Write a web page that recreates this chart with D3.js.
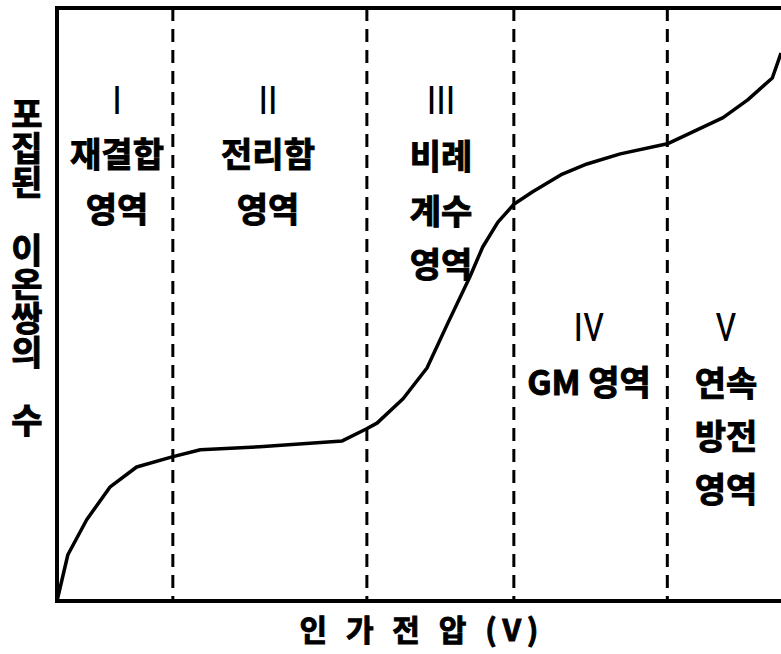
<!DOCTYPE html>
<html>
<head>
<meta charset="utf-8">
<script src="https://cdn.jsdelivr.net/npm/d3@7"></script>
<style>
  body { margin: 0; background: #fff; }
  svg { display: block; }
  .kr { font-family: "Noto Sans CJK KR", "Noto Sans", sans-serif; font-weight: 700; fill: #000; stroke: #000; stroke-width: 1; }
  .num { font-family: "Liberation Sans Narrow", "Roboto", sans-serif; font-stretch: condensed; font-weight: 400; fill: #000; }
</style>
</head>
<body>
<div id="chart"></div>
<script>
// applied voltage (arbitrary units, 0..100) and collected ion pairs (0..100)
const voltage = [0, 1.5, 4.1, 7.3, 11.0, 15.9, 19.8, 28.0, 39.4, 42.7, 44.2, 47.8, 51.1, 54.0, 57.0, 58.8, 60.9, 63.1, 65.7, 69.8, 73.2, 77.8, 84.3, 92.0, 95.4, 98.8, 100];
const ionPairs = [0, 7.8, 13.7, 19.2, 22.6, 24.3, 25.5, 26.0, 27.0, 29.0, 30.0, 34.1, 39.3, 46.9, 54.6, 59.7, 63.9, 66.9, 69.0, 72.0, 73.7, 75.4, 77.1, 81.5, 84.5, 88.2, 92.4];

// region boundaries (dashed lines)
const boundaries = [16.0, 42.8, 63.1, 84.3];

// region labels
const numerals = ["I", "II", "III", "IV", "V"];
const regionNames = [["재결합", "영역"], ["전리함", "영역"], ["비례", "계수", "영역"], ["GM 영역"], ["연속", "방전", "영역"]];

const xTitle = "인 가 전 압 (V)";
const yTitle = "포집된  이온쌍의 수";

const width = 781, height = 654;
const margin = { top: 8, left: 57, bottom: 53 };

const svg = d3.select("#chart").append("svg")
  .attr("width", width)
  .attr("height", height);

const x = d3.scaleLinear().domain([0, 100]).range([margin.left, 781]);
const y = d3.scaleLinear().domain([0, 100]).range([height - margin.bottom, margin.top]);

// dashed region separators
svg.append("g")
  .selectAll("line")
  .data(boundaries)
  .enter().append("line")
  .attr("x1", d => x(d)).attr("x2", d => x(d))
  .attr("y1", y(100)).attr("y2", y(0))
  .attr("stroke", "#000")
  .attr("stroke-width", 3)
  .attr("stroke-dasharray", "13,8");

// frame: left, top and bottom (right side runs off the picture)
const frame = d3.path();
frame.moveTo(x(103), y(100));
frame.lineTo(x(0), y(100));
frame.lineTo(x(0), y(0));
frame.lineTo(x(103), y(0));
svg.append("path")
  .attr("d", frame.toString())
  .attr("fill", "none")
  .attr("stroke", "#000")
  .attr("stroke-width", 4)
  .attr("stroke-linejoin", "miter");

// curve
const line = d3.line()
  .x((d, i) => x(voltage[i]))
  .y(d => y(d));

svg.append("path")
  .datum(ionPairs)
  .attr("d", line)
  .attr("fill", "none")
  .attr("stroke", "#000")
  .attr("stroke-width", 3.5)
  .attr("stroke-linejoin", "round");

// region labels
const labelX = [117, 268, 441, 589, 726];
const numY = [100, 100, 100, 327, 327];
const nameY = [[155, 210], [155, 210], [157, 212, 265], [383], [384, 437, 490]];

numerals.forEach((n, i) => {
  svg.append("text")
    .attr("class", "num")
    .attr("x", labelX[i])
    .attr("y", numY[i])
    .attr("dy", "0.36em")
    .attr("text-anchor", "middle")
    .attr("font-size", 38)
    .text(n);

  regionNames[i].forEach((s, j) => {
    svg.append("text")
      .attr("class", "kr")
      .attr("x", labelX[i])
      .attr("y", nameY[i][j])
      .attr("dy", "0.36em")
      .attr("text-anchor", "middle")
      .attr("font-size", 34)
      .text(s);
  });
});

// x axis title
svg.append("text")
  .attr("class", "kr")
  .attr("x", 422)
  .attr("y", 630)
  .attr("dy", "0.36em")
  .attr("text-anchor", "middle")
  .attr("font-size", 30)
  .attr("letter-spacing", 6)
  .text(xTitle);

// y axis title, upright characters stacked top to bottom
svg.append("text")
  .attr("class", "kr")
  .attr("x", 27)
  .attr("y", 97)
  .attr("font-size", 34)
  .style("writing-mode", "vertical-rl")
  .style("text-orientation", "upright")
  .text(yTitle);
</script>
</body>
</html>
